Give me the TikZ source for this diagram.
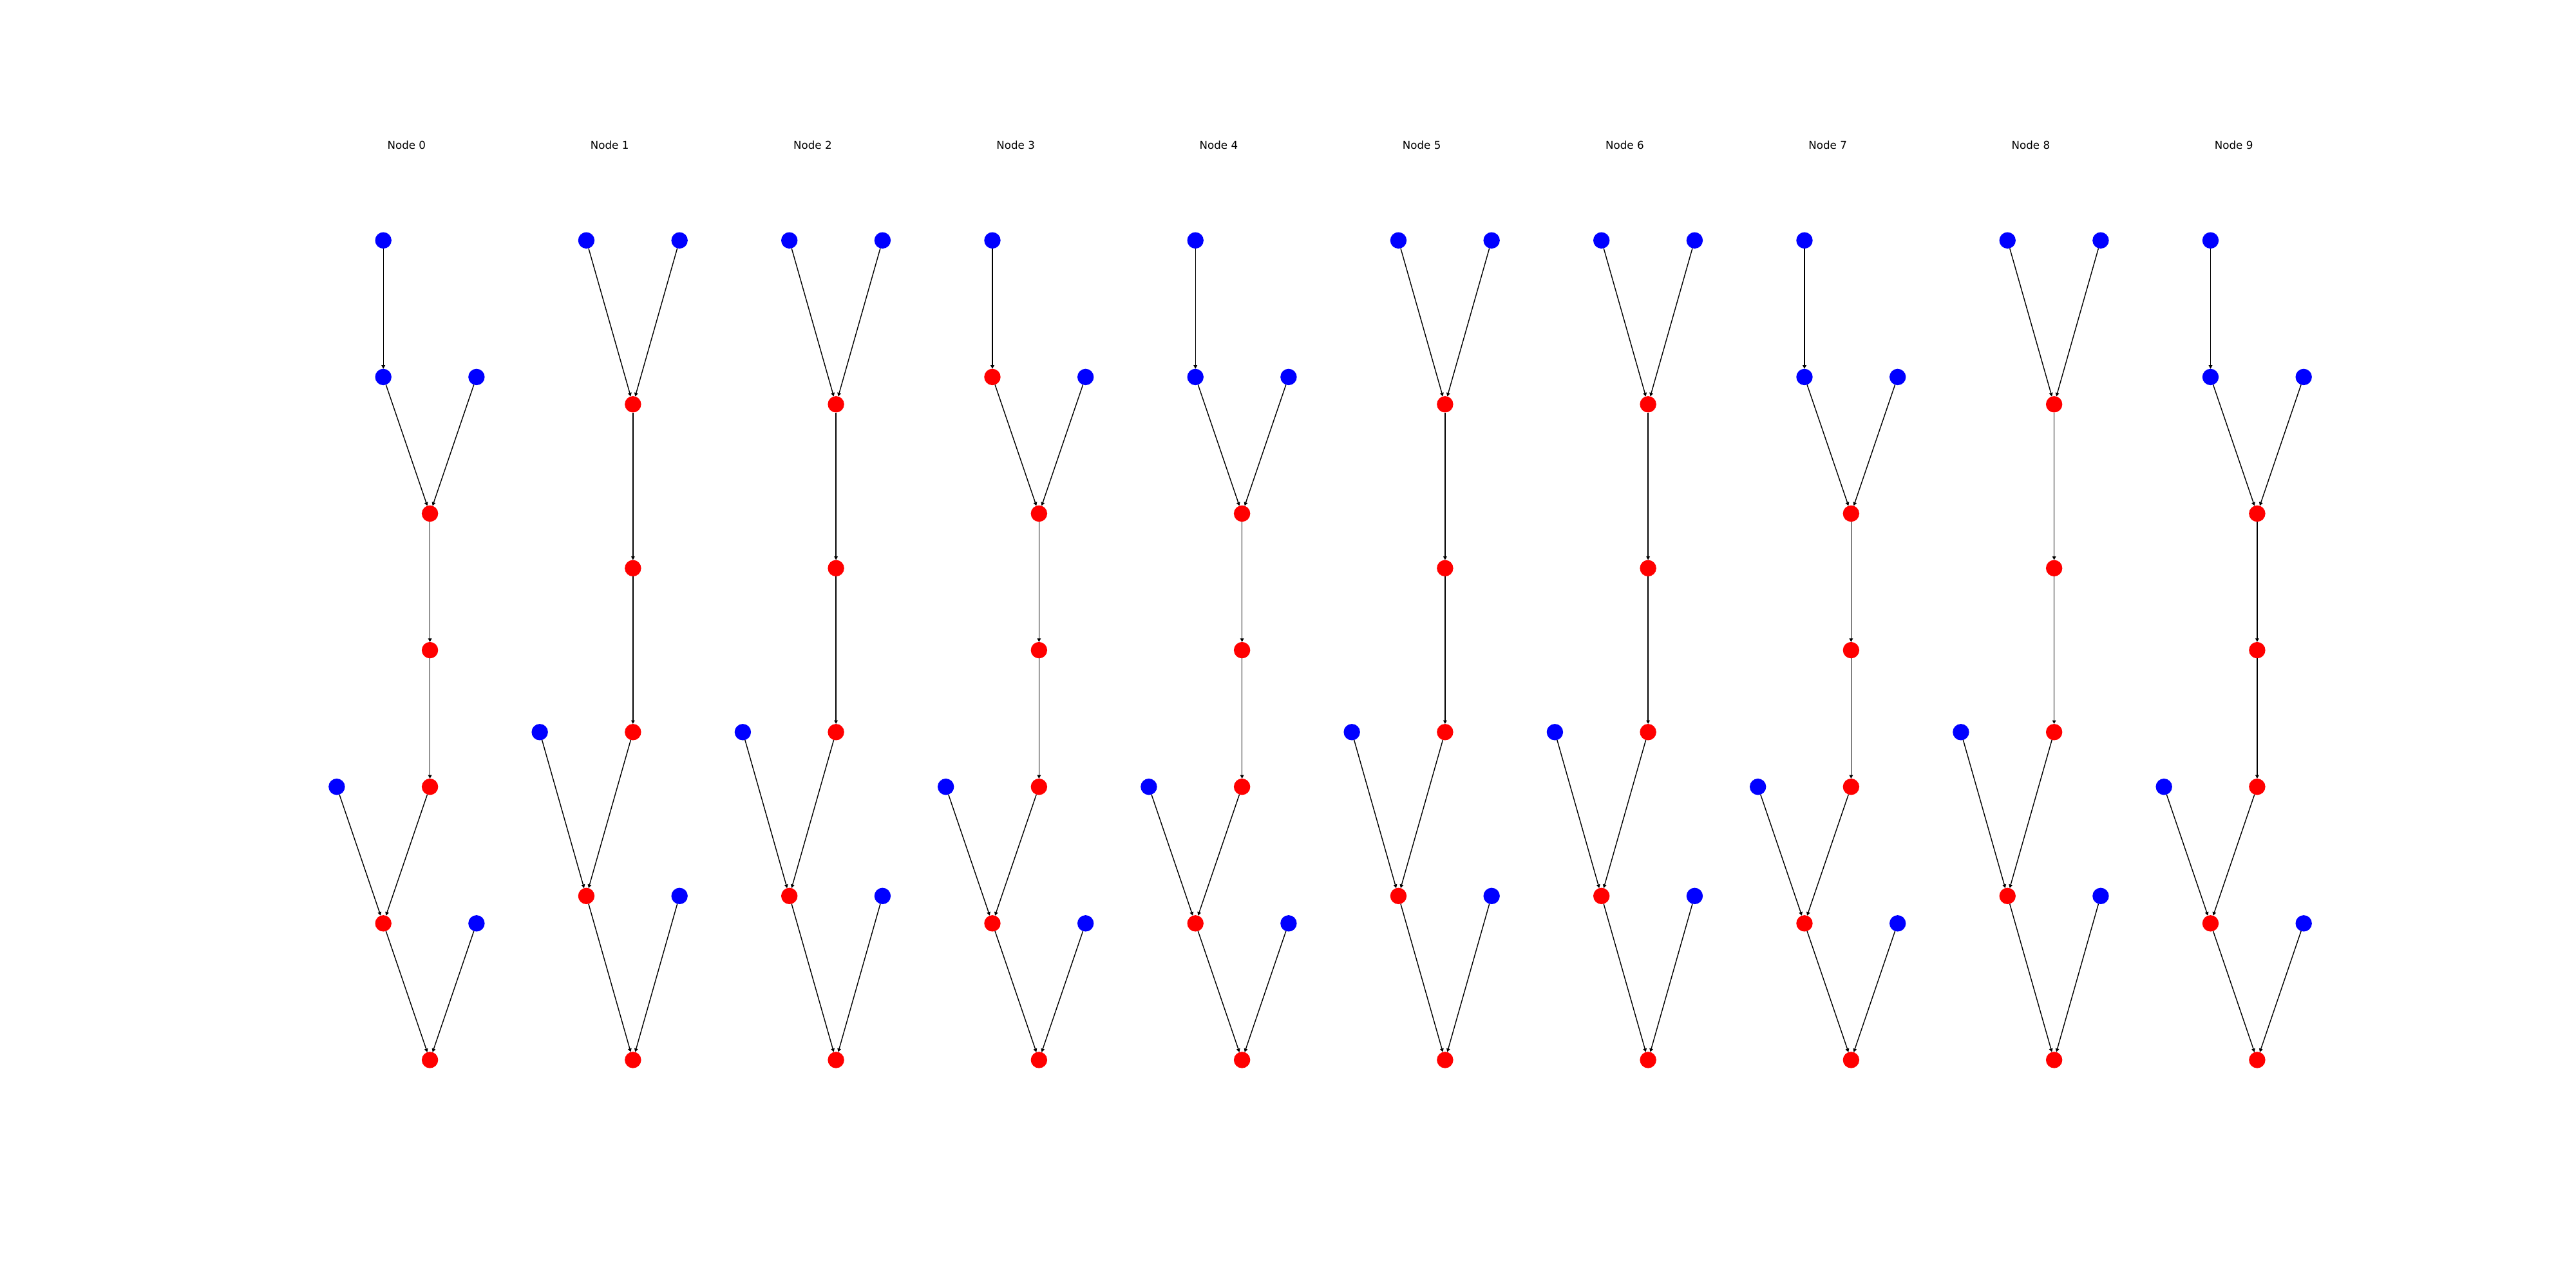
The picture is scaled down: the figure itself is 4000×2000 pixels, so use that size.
\documentclass[tikz,border=0pt]{standalone}
\usepackage{fontspec}
\setmainfont{DejaVu Sans}
\usetikzlibrary{arrows.meta}
\tikzset{
  px/.style={x=0.01cm,y=-0.01cm},
  vtx/.style={circle,inner sep=0pt,outer sep=0pt,minimum size=0.254cm,draw=none},
  bn/.style={vtx,fill=blue},
  rn/.style={vtx,fill=red},
  ttl/.style={anchor=base,inner sep=0pt,font=\fontsize{4.74pt}{5.7pt}\selectfont},
  arr/.style={draw=black,line width=0.395pt,-{Triangle[length=0.056cm,width=0.056cm]}}
}
\newcommand\treeA[2]{%
  \pgfmathsetmacro\cx{631.4+315.25*#1}%
  \node[ttl] (t#1) at (\cx,231.7) {Node #1};
  \node[bn] (n#1a) at (\cx-36.2,373.3) {};
  \node[vtx,fill=#2] (n#1b) at (\cx-36.2,585.4) {};
  \node[bn] (n#1c) at (\cx+108.5,585.4) {};
  \node[rn] (n#1d) at (\cx+36.2,797.5) {};
  \node[rn] (n#1e) at (\cx+36.2,1009.6) {};
  \node[bn] (n#1f) at (\cx-108.5,1221.7) {};
  \node[rn] (n#1g) at (\cx+36.2,1221.7) {};
  \node[rn] (n#1h) at (\cx-36.2,1433.8) {};
  \node[bn] (n#1i) at (\cx+108.5,1433.8) {};
  \node[rn] (n#1j) at (\cx+36.2,1645.9) {};
  \draw[arr] (n#1a) -- (n#1b);
  \draw[arr] (n#1b) -- (n#1d);
  \draw[arr] (n#1c) -- (n#1d);
  \draw[arr] (n#1d) -- (n#1e);
  \draw[arr] (n#1e) -- (n#1g);
  \draw[arr] (n#1f) -- (n#1h);
  \draw[arr] (n#1g) -- (n#1h);
  \draw[arr] (n#1h) -- (n#1j);
  \draw[arr] (n#1i) -- (n#1j);
}
\newcommand\treeB[1]{%
  \pgfmathsetmacro\cx{631.4+315.25*#1}%
  \node[ttl] (t#1) at (\cx,231.7) {Node #1};
  \node[bn] (n#1a) at (\cx-36.2,373.3) {};
  \node[bn] (n#1b) at (\cx+108.5,373.3) {};
  \node[rn] (n#1c) at (\cx+36.2,627.8) {};
  \node[rn] (n#1d) at (\cx+36.2,882.3) {};
  \node[bn] (n#1e) at (\cx-108.5,1136.8) {};
  \node[rn] (n#1f) at (\cx+36.2,1136.8) {};
  \node[rn] (n#1g) at (\cx-36.2,1391.3) {};
  \node[bn] (n#1h) at (\cx+108.5,1391.3) {};
  \node[rn] (n#1j) at (\cx+36.2,1645.9) {};
  \draw[arr] (n#1a) -- (n#1c);
  \draw[arr] (n#1b) -- (n#1c);
  \draw[arr] (n#1c) -- (n#1d);
  \draw[arr] (n#1d) -- (n#1f);
  \draw[arr] (n#1e) -- (n#1g);
  \draw[arr] (n#1f) -- (n#1g);
  \draw[arr] (n#1g) -- (n#1j);
  \draw[arr] (n#1h) -- (n#1j);
}
\begin{document}
\begin{tikzpicture}[px]
  \useasboundingbox[fill=white] (0,0) rectangle (4000,2000);
  \treeA{0}{blue}
  \treeB{1}
  \treeB{2}
  \treeA{3}{red}
  \treeA{4}{blue}
  \treeB{5}
  \treeB{6}
  \treeA{7}{blue}
  \treeB{8}
  \treeA{9}{blue}
\end{tikzpicture}
\end{document}
